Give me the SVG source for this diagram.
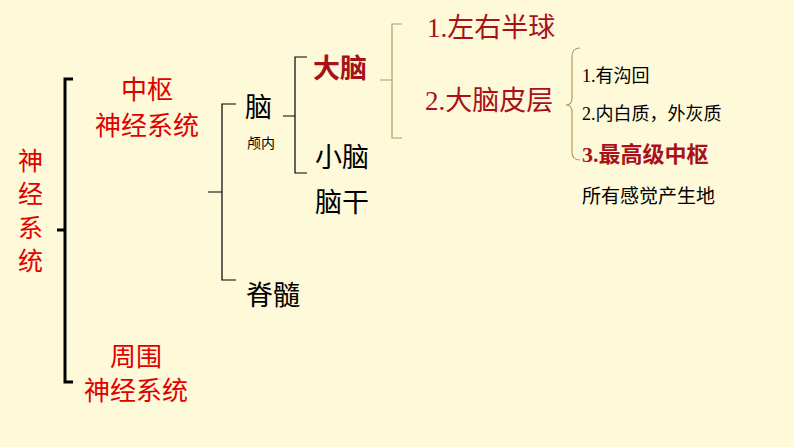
<svg xmlns="http://www.w3.org/2000/svg" width="794" height="447" viewBox="0 0 794 447">
<style>
text{font-family:"Noto Sans CJK SC","Liberation Sans",sans-serif}
.r{fill:#e00000}.d{fill:#a8101a}.k{fill:#000}
.b{font-weight:bold}
.n{font-family:"Liberation Serif","Noto Sans CJK SC",serif}
</style>
<rect width="794" height="447" fill="#fdf9d9"/>
<g id="connectors" fill="none">
<path d="M73 79H65V382H73M57 230H65" stroke="#000" stroke-width="3"/>
<path d="M236 104H222V280H236M208 192H222" stroke="#000" stroke-width="1.2"/>
<path d="M307 57H295V173H307M283 116H295" stroke="#000" stroke-width="1.2"/>
<path d="M402 24H392V138H402M380 80H392" stroke="#b49a6a" stroke-width="1.2"/>
<path d="M580 48Q572 48 572 56V98Q572 105 566 105Q572 105 572 112V152Q572 160 580 160" stroke="#b49a6a" stroke-width="1.2"/>
</g>
<g id="root" class="r" font-size="25"><text x="18" y="170">神</text><text x="18" y="203">经</text><text x="18" y="237">系</text><text x="18" y="270">统</text></g>
<g id="cns" class="r" font-size="26"><text x="147" y="99" text-anchor="middle">中枢</text><text x="147" y="135" text-anchor="middle">神经系统</text></g>
<g id="pns" class="r" font-size="26"><text x="136" y="366" text-anchor="middle">周围</text><text x="136" y="400" text-anchor="middle">神经系统</text></g>
<g id="brain" class="k"><text x="245" y="117" font-size="27">脑</text><text x="247" y="148" font-size="14">颅内</text></g>
<g id="cerebrum"><text x="313" y="78" font-size="27" class="d b">大脑</text></g>
<g id="cerebellum"><text x="315" y="167" font-size="27">小脑</text></g>
<g id="brainstem"><text x="315" y="212" font-size="27">脑干</text></g>
<g id="spinal"><text x="246" y="305" font-size="27">脊髓</text></g>
<g id="hemi"><text x="427" y="37" font-size="27" class="d"><tspan class="n">1.</tspan>左右半球</text></g>
<g id="cortex"><text x="425" y="110" font-size="27" class="d"><tspan class="n">2.</tspan>大脑皮层</text></g>
<g id="f1"><text x="582" y="82" font-size="18"><tspan class="n">1.</tspan>有沟回</text></g>
<g id="f2"><text x="582" y="120" font-size="18"><tspan class="n">2.</tspan>内白质，外灰质</text></g>
<g id="f3"><text x="582" y="162" font-size="22" class="d b"><tspan class="n">3.</tspan>最高级中枢</text></g>
<g id="f4"><text x="582" y="203" font-size="19">所有感觉产生地</text></g>
</svg>
